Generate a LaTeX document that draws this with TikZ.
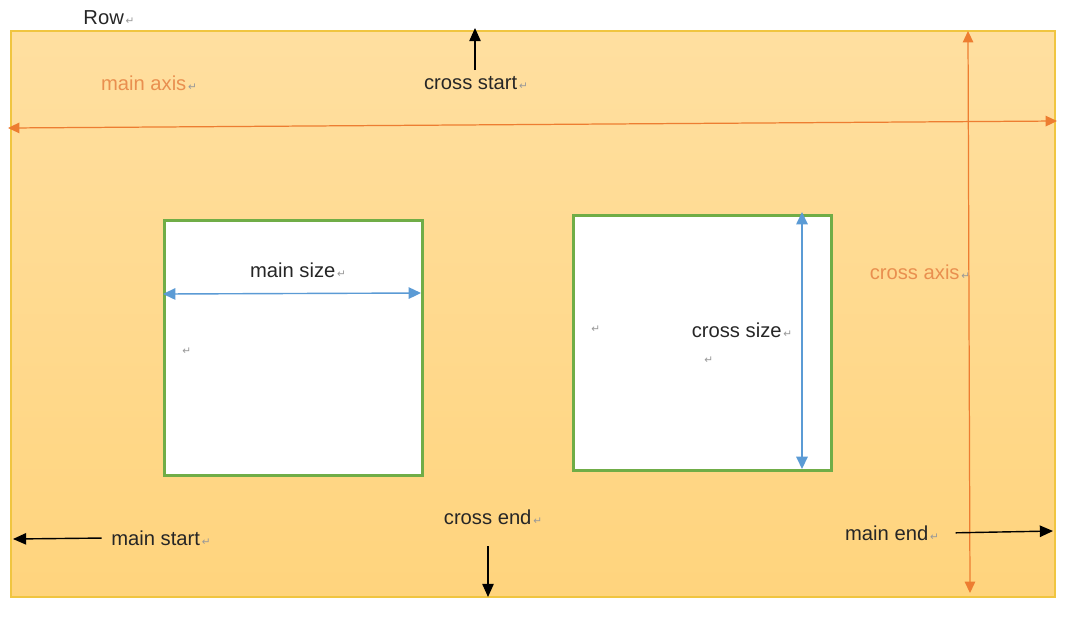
\documentclass[tikz,border=0pt]{standalone}
\usepackage{fontspec}
\setmainfont{Liberation Sans}
\newfontfamily\markfont{DejaVu Sans}
\usetikzlibrary{arrows.meta, positioning}
\definecolor{axisorange}{HTML}{ED7D31}
\definecolor{labelorange}{HTML}{E98F4F}
\definecolor{sizeblue}{HTML}{5B9BD5}
\definecolor{itemgreen}{HTML}{70AD47}
\definecolor{flexedge}{HTML}{F0C540}
\definecolor{flextop}{HTML}{FFDFA0}
\definecolor{flexbottom}{HTML}{FFD47D}
\newcommand{\ret}{{\markfont\fontsize{6}{6}\selectfont\color{gray!80}\,↵}}

\begin{document}
\begin{tikzpicture}[x=0.02cm, y=-0.02cm]
	\tikzstyle{every node}=[font=\fontsize{11.5}{13}\selectfont, text=black!85]
	\tikzstyle{axislabel}=[text=labelorange]
	\tikzstyle{flexitem}=[draw=itemgreen, line width=1.3pt, fill=white, minimum width=5.16cm, minimum height=5.1cm]
	\tikzstyle{axisline}=[draw=axisorange, line width=0.7pt, {Triangle[length=6.5pt,width=6pt]}-{Triangle[length=6.5pt,width=6pt]}]
	\tikzstyle{sizeline}=[draw=sizeblue, line width=0.8pt, {Triangle[length=7pt,width=6.5pt]}-{Triangle[length=7pt,width=6.5pt]}]
	\tikzstyle{edgeline}=[draw=black, line width=0.8pt, -{Triangle[length=7.5pt,width=6.5pt]}]
	\useasboundingbox (0,0) rectangle (1071,620);
	% container
	\path[draw=flexedge, line width=0.6pt, top color=flextop, bottom color=flexbottom] (11,31) rectangle (1055,597);
	\node (row) at (109,18) {Row\ret};
	% items
	\node[flexitem] (item1) at (293.5,348) {};
	\node[flexitem] (item2) at (702.5,343) {};
	% labels
	\node[axislabel] (mainaxis) at (149,83) {main axis\ret};
	\node[axislabel] (crossaxis) at (920,272) {cross axis\ret};
	\node (crossstart) at (476,83) {cross start\ret};
	\node (crossend) at (493,517) {cross end\ret};
	\node (mainstart) at (161,538) {main start\ret};
	\node (mainend) at (892,533) {main end\ret};
	\node (mainsize) at (298,270) {main size\ret};
	\node (crosssize) at (742,330) {cross size\ret};
	\node (mark1) at (186,351) {\ret};
	\node (mark2) at (595,329) {\ret};
	\node (mark3) at (708,360) {\ret};
	% ends of the arrows
	\coordinate (maLeft) at (8,128);
	\coordinate (maRight) at (1057,121);
	\coordinate (caTop) at (968,31);
	\coordinate (caBottom) at (970,593);
	\coordinate (csTop) at (475,28);
	\coordinate (ceTop) at (488,546);
	\coordinate (ceBottom) at (488,597);
	\coordinate (msLeft) at (13,539);
	\coordinate (meRight) at (1053,531);
	\coordinate (szLeft) at (163,294);
	\coordinate (szRight) at (421,293);
	\coordinate (czTop) at (802,212);
	\coordinate (czBottom) at (802,469);
	% arrows
	\draw[axisline] (maLeft) -- (maRight);
	\draw[axisline] (caTop) -- (caBottom);
	\draw[sizeline] (szLeft) -- (szRight);
	\draw[sizeline] (czTop) -- (czBottom);
	\draw[edgeline] (crossstart.north -| csTop) -- (csTop);
	\draw[edgeline] (ceTop) -- (ceBottom);
	\draw[edgeline, shorten <=2pt] (mainstart.west) -- (msLeft);
	\draw[edgeline, shorten <=6pt] (mainend.east) -- (meRight);
\end{tikzpicture}
\end{document}
